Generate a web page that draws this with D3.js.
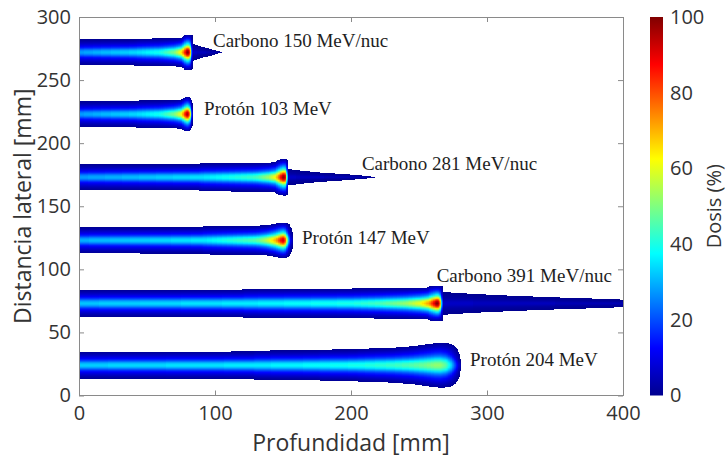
<!DOCTYPE html>
<html>
<head>
<meta charset="utf-8">
<script src="https://cdn.jsdelivr.net/npm/d3@7"></script>
<style>
	body { margin: 0; background: #fff; }
	svg text { font-family: "Open Sans", sans-serif; fill: #333; }
	.beam-label { font-family: "Liberation Serif", serif; fill: #1e1e1e; }
</style>
</head>
<body>
<svg id="chart" width="728" height="463"></svg>
<script>
// Beams from top to bottom
const beamNames = ["Carbono 150 MeV/nuc", "Protón 103 MeV", "Carbono 281 MeV/nuc", "Protón 147 MeV", "Carbono 391 MeV/nuc", "Protón 204 MeV"];
const beamCenter = [272, 223, 173, 123, 73, 24]; // lateral position of the beam axis [mm]

// Nodes along depth [mm], dose on the beam axis [%] and half width of the field [mm]
const beamDepth = [
	[0, 40, 45, 60, 70, 75, 76, 77.5, 79, 80, 81, 82, 83, 84, 84.01, 90, 97, 105],
	[0, 40, 45, 60, 70, 75, 77, 78.5, 80, 81, 82, 83, 83.6, 84],
	[0, 88, 90, 130, 140, 144, 146, 148, 150, 151, 152, 153, 154, 154.01, 165, 180, 195, 210, 218],
	[0, 90, 92, 130, 138, 143, 146, 149, 150, 151.5, 153, 155, 156.5, 157.3],
	[0, 120, 122, 200, 220, 240, 250, 256, 258, 261, 263, 264, 265.5, 267, 268, 268.01, 290, 320, 350, 380, 400],
	[0, 128, 130, 176, 178, 204, 206, 230, 245, 255, 262, 266, 270, 274, 277, 279, 280.5, 281.2]
];
const beamDose = [
	[28, 34, 35, 40, 50, 64, 70, 82, 94, 100, 96, 60, 15, 6, 6, 5, 4, 3],
	[28, 34, 35, 40, 50, 62, 76, 90, 97, 88, 50, 12, 5, 3],
	[28, 35, 35, 44, 54, 63, 72, 86, 98, 100, 88, 40, 8, 6, 5, 4.5, 4, 3.5, 3],
	[30, 36, 36, 46, 56, 66, 76, 90, 93, 85, 55, 18, 6, 3],
	[32, 36, 36, 40, 44, 52, 60, 70, 76, 90, 100, 98, 80, 25, 7, 6, 5.5, 5, 4.5, 4, 3.5],
	[33, 36, 36, 38, 38, 40, 40, 43, 46, 49, 52, 52, 46, 32, 18, 9, 5, 3]
];
const beamHalf = [
	[10.2, 10.4, 10.9, 11, 11.2, 11.4, 12, 13.6, 14, 14, 14, 14, 13.6, 12.6, 6.7, 4.6, 2.6, 0.2],
	[10.2, 10.4, 10.9, 11, 11.2, 11.6, 12.8, 13.4, 13.6, 13.4, 12.6, 10.5, 7, 1],
	[10.2, 10.4, 11.2, 11.4, 11.6, 12, 13.5, 14.2, 14.5, 14.5, 14.5, 14.2, 13, 6.5, 5, 3.5, 2.5, 1.2, 0.2],
	[10.3, 10.6, 11.2, 11.6, 12, 12.8, 13.6, 14, 14, 14, 13.6, 12.4, 9, 1],
	[10.8, 11, 11.5, 11.8, 12, 12.2, 12.4, 12.6, 13.6, 14, 14, 14, 14, 13.8, 13, 9, 7.5, 6, 4.8, 3.8, 3],
	[10.7, 10.9, 11.6, 11.9, 12.4, 12.6, 13, 13.8, 15, 16.5, 17.5, 17.8, 17.6, 16.8, 14.5, 11.5, 7, 1]
];

// Where each beam name is written [mm]
const labelDepth = [98.5, 92, 208, 164, 263, 287.5];
const labelLateral = [276, 222, 179, 120, 90, 23];

// Lateral dose profile, relative to the axis dose (0 = axis, 1 = field edge)
const latPos = [0, 0.1, 0.2, 0.3, 0.4, 0.5, 0.6, 0.7, 0.8, 0.9, 1];
const latFrac = [1, 0.95, 0.82, 0.64, 0.48, 0.36, 0.27, 0.19, 0.12, 0.06, 0.02];

// Jet colormap
const jetStops = [0, 12.5, 37.5, 62.5, 87.5, 100];
const jetColors = ["#00008f", "#0000ff", "#00ffff", "#ffff00", "#ff0000", "#800000"];

const xTicks = [0, 100, 200, 300, 400];
const yTicks = [0, 50, 100, 150, 200, 250, 300];
const cTicks = [0, 20, 40, 60, 80, 100];

var svg = d3.select("#chart");
var defs = svg.append("defs");

var x = d3.scaleLinear().domain([0, 400]).range([79, 623]);
var y = d3.scaleLinear().domain([0, 300]).range([395.5, 17]);
var jet = d3.scaleLinear().domain(jetStops).range(jetColors).clamp(true);
var lateral = d3.scaleLinear().domain(latPos).range(latFrac);

// One gradient per integer dose on the axis, reflected around the centre
d3.range(0, 101).forEach(function(D) {
	var g = defs.append("linearGradient")
		.attr("id", "dose-" + D)
		.attr("x1", 0).attr("y1", 0.5)
		.attr("x2", 0).attr("y2", 1)
		.attr("spreadMethod", "reflect");
	latPos.forEach(function(r) {
		g.append("stop")
			.attr("offset", r)
			.attr("stop-color", jet(D * lateral(r)));
	});
});

defs.append("clipPath").attr("id", "plot-clip")
	.append("rect")
	.attr("x", x(0)).attr("y", y(300))
	.attr("width", x(400) - x(0)).attr("height", y(0) - y(300));

// Dose field: thin columns along depth
var step = 0.5;
var field = svg.append("g").attr("clip-path", "url(#plot-clip)");

beamNames.forEach(function(name, i) {
	var dose = d3.scaleLinear().domain(beamDepth[i]).range(beamDose[i]).clamp(true);
	var half = d3.scaleLinear().domain(beamDepth[i]).range(beamHalf[i]).clamp(true);
	var maxDepth = d3.max(beamDepth[i]);
	var cols = d3.range(0, maxDepth, step).map(function(d) {
		var d1 = Math.min(d + step, maxDepth);
		var mid = (d + d1) / 2;
		return { d0: d, d1: d1, dose: dose(mid), half: half(mid) };
	});

	field.append("g")
		.attr("class", "beam")
		.selectAll("rect")
		.data(cols)
		.enter()
		.append("rect")
		.attr("x", function(c) { return x(c.d0); })
		.attr("width", function(c) { return x(c.d1) - x(c.d0); })
		.attr("y", function(c) { return y(beamCenter[i] + c.half); })
		.attr("height", function(c) { return y(beamCenter[i] - c.half) - y(beamCenter[i] + c.half); })
		.attr("shape-rendering", "crispEdges")
		.attr("fill", function(c) { return "url(#dose-" + Math.round(c.dose) + ")"; });
});

// Beam names
svg.append("g")
	.selectAll("text")
	.data(beamNames)
	.enter()
	.append("text")
	.attr("class", "beam-label")
	.attr("x", function(d, i) { return x(labelDepth[i]); })
	.attr("y", function(d, i) { return y(labelLateral[i]); })
	.attr("font-size", 19)
	.text(function(d) { return d; });

// Axes, ticks pointing inwards like MATLAB
function styleAxis(g) {
	g.select(".domain").remove();
	g.selectAll(".tick line").attr("stroke", "#8a8a8a");
	g.selectAll(".tick text").attr("font-size", 20).attr("fill", "#333");
}

svg.append("g")
	.attr("transform", "translate(0," + y(0) + ")")
	.call(d3.axisBottom(x).tickValues(xTicks).tickSizeInner(-5).tickSizeOuter(0).tickPadding(10))
	.call(styleAxis);
svg.append("g")
	.attr("transform", "translate(0," + y(300) + ")")
	.call(d3.axisTop(x).tickValues(xTicks).tickSizeInner(-5).tickSizeOuter(0).tickFormat(""))
	.call(styleAxis);
svg.append("g")
	.attr("transform", "translate(" + x(0) + ",0)")
	.call(d3.axisLeft(y).tickValues(yTicks).tickSizeInner(-5).tickSizeOuter(0).tickPadding(8))
	.call(styleAxis);
svg.append("g")
	.attr("transform", "translate(" + x(400) + ",0)")
	.call(d3.axisRight(y).tickValues(yTicks).tickSizeInner(-5).tickSizeOuter(0).tickFormat(""))
	.call(styleAxis);

svg.append("rect")
	.attr("x", x(0)).attr("y", y(300))
	.attr("width", x(400) - x(0)).attr("height", y(0) - y(300))
	.attr("fill", "none")
	.attr("stroke", "#8a8a8a")
	.attr("shape-rendering", "crispEdges");

svg.append("text")
	.attr("x", (x(0) + x(400)) / 2)
	.attr("y", 451)
	.attr("text-anchor", "middle")
	.attr("font-size", 23)
	.text("Profundidad [mm]");

svg.append("text")
	.attr("transform", "translate(31," + (y(0) + y(300)) / 2 + ") rotate(-90)")
	.attr("text-anchor", "middle")
	.attr("font-size", 23)
	.text("Distancia lateral [mm]");

// Colorbar
var c = d3.scaleLinear().domain([0, 100]).range([395.5, 17]);
var cg = defs.append("linearGradient")
	.attr("id", "jet-bar")
	.attr("x1", 0).attr("y1", 1)
	.attr("x2", 0).attr("y2", 0);
jetStops.forEach(function(s, i) {
	cg.append("stop").attr("offset", s / 100).attr("stop-color", jetColors[i]);
});

svg.append("rect")
	.attr("x", 650).attr("y", c(100))
	.attr("width", 13).attr("height", c(0) - c(100))
	.attr("fill", "url(#jet-bar)");

svg.append("g")
	.attr("transform", "translate(663,0)")
	.call(d3.axisRight(c).tickValues(cTicks).tickSizeInner(0).tickSizeOuter(0).tickPadding(7))
	.call(styleAxis);

svg.append("text")
	.attr("transform", "translate(721," + (c(0) + c(100)) / 2 + ") rotate(-90)")
	.attr("text-anchor", "middle")
	.attr("font-size", 20)
	.text("Dosis (%)");
</script>
</body>
</html>
